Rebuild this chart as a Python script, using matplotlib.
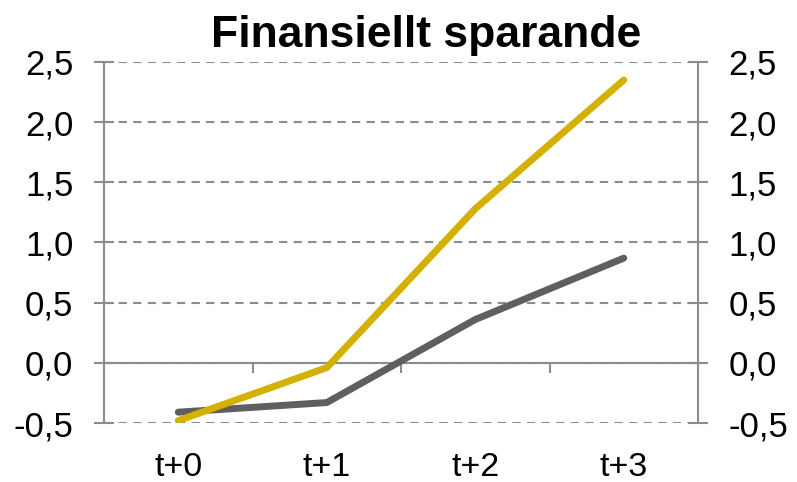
import matplotlib
matplotlib.use("Agg")
import matplotlib.pyplot as plt
from matplotlib.ticker import FuncFormatter, FixedLocator

plt.rcParams['font.family'] = ['Liberation Sans', 'DejaVu Sans']

categories = ["t+0", "t+1", "t+2", "t+3"]
grey_series = [-0.41, -0.33, 0.36, 0.87]
yellow_series = [-0.48, -0.04, 1.28, 2.35]
y_ticks = [-0.5, 0.0, 0.5, 1.0, 1.5, 2.0, 2.5]

axis_grey = "#8c8c8c"

fig = plt.figure(figsize=(7.97, 4.82), dpi=100)
ax = fig.add_axes([0.1305, 0.1224, 0.7453, 0.749])

x = list(range(len(categories)))
ax.plot(x, grey_series, color="#5f5f5f", linewidth=5, solid_capstyle="round", zorder=3)
ax.plot(x, yellow_series, color="#d4b000", linewidth=5, solid_capstyle="round", zorder=4)

ax.set_xlim(-0.5, 3.5)
ax.set_ylim(-0.5, 2.5)

# y axis on both sides
ax.yaxis.set_major_locator(FixedLocator(y_ticks))
ax.yaxis.set_major_formatter(FuncFormatter(lambda v, p: f"{v:.1f}".replace(".", ",")))
ax.tick_params(axis="y", which="major", direction="inout", length=14, width=1.5,
               color=axis_grey, left=True, right=True, labelleft=True, labelright=True,
               labelsize=25, pad=15)
ax.grid(axis="y", color=axis_grey, linestyle=(0, (4, 3)), linewidth=1.5, zorder=1)

# category axis at zero
ax.spines["bottom"].set_position(("data", 0))
ax.spines["top"].set_visible(False)
for s in ["bottom", "left", "right"]:
    ax.spines[s].set_color(axis_grey)
    ax.spines[s].set_linewidth(1.5)
ax.spines["bottom"].set_zorder(2)

ax.set_xticks(x)
ax.set_xticklabels(categories)
ax.set_xticks([0.5, 1.5, 2.5], minor=True)
ax.tick_params(axis="x", which="major", length=0, labelsize=24.5, pad=64)
ax.tick_params(axis="x", which="minor", direction="out", length=7, width=1.5, color=axis_grey)

fig.text(0.535, 0.903, "Finansiellt sparande", ha="center", va="baseline",
         fontsize=32, fontweight="bold")

fig.savefig("out.png", dpi=100)
